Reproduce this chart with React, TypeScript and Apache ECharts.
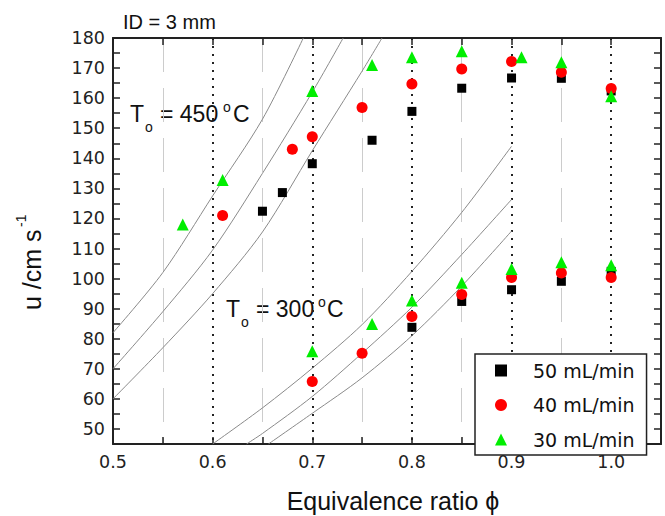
import React, { useEffect, useRef } from 'react';
import * as echarts from 'echarts';

// ---- Data ----
const seriesNames = ['50 mL/min', '40 mL/min', '30 mL/min'];

const phi50 = [0.65, 0.67, 0.70, 0.76, 0.80, 0.85, 0.90, 0.95, 1.00, 0.80, 0.85, 0.90, 0.95, 1.00];
const u50 = [122.4, 128.6, 138.2, 146.0, 155.6, 163.3, 166.7, 166.6, 162.4, 83.8, 92.4, 96.3, 99.1, 102.4];

const phi40 = [0.61, 0.68, 0.70, 0.75, 0.80, 0.85, 0.90, 0.95, 1.00, 0.70, 0.75, 0.80, 0.85, 0.90, 0.95, 1.00];
const u40 = [121.0, 143.0, 147.2, 156.9, 164.7, 169.7, 172.2, 168.6, 163.2, 65.8, 75.2, 87.4, 94.7, 100.4, 101.9, 100.4];

const phi30 = [0.57, 0.61, 0.70, 0.76, 0.80, 0.85, 0.91, 0.95, 1.00, 0.70, 0.76, 0.80, 0.85, 0.90, 0.95, 1.00];
const u30 = [118.0, 132.8, 162.4, 171.0, 173.6, 175.6, 173.6, 171.9, 160.6, 75.8, 84.9, 92.7, 98.6, 103.2, 105.4, 104.4];

// model curves (T0 = 450 °C group)
const curveA_phi = [0.5, 0.55, 0.6, 0.65, 0.691];
const curveA_u = [82, 102, 127.5, 153, 180];
const curveB_phi = [0.5, 0.55, 0.6, 0.65, 0.7, 0.731];
const curveB_u = [70, 89, 109.5, 135, 162, 180];
const curveC_phi = [0.5, 0.55, 0.6, 0.65, 0.7, 0.75, 0.77];
const curveC_u = [60, 77, 95, 115.5, 142.5, 169, 180];
// model curves (T0 = 300 °C group)
const curveD_phi = [0.6, 0.65, 0.7, 0.75, 0.8, 0.85, 0.9];
const curveD_u = [45, 57, 70.2, 84.7, 102.4, 122, 144];
const curveE_phi = [0.634, 0.65, 0.7, 0.75, 0.8, 0.85, 0.9];
const curveE_u = [45, 48.5, 60.8, 75.2, 90.5, 108, 126.3];
const curveF_phi = [0.656, 0.7, 0.75, 0.8, 0.85, 0.9];
const curveF_u = [45, 55.2, 67, 81, 97.5, 115.8];

const xMin = 0.5, xMax = 1.05, xStep = 0.1;
const yMin = 45, yMax = 180, yStep = 5;

const zip = (xs: number[], ys: number[]) => xs.map((x, i) => [x, ys[i]]);

const AXIS_COLOR = '#222';
const SANS = 'Liberation Sans, Arial, sans-serif';
const TICKFONT = 'DejaVu Sans, sans-serif';

export default function App() {
  const ref = useRef<HTMLDivElement>(null);
  useEffect(() => {
    if (!ref.current) return;
    const chart = echarts.init(ref.current, undefined, { renderer: 'svg' });

    const curve = (p: number[], u: number[]) => ({
      type: 'line',
      data: zip(p, u),
      smooth: 0.3,
      showSymbol: false,
      symbol: 'none',
      silent: true,
      lineStyle: { color: '#8a8a8a', width: 1 },
      z: 1,
    });

    const scatter = (name: string, p: number[], u: number[], symbol: string, size: number, color: string) => ({
      name,
      type: 'scatter',
      data: zip(p, u),
      symbol,
      symbolSize: size,
      itemStyle: { color, opacity: 1 },
      z: 3,
    });

    const tickCommon = { show: true, inside: true, length: 7, lineStyle: { color: AXIS_COLOR, width: 1.5 } };
    const lineCommon = { show: true, lineStyle: { color: AXIS_COLOR, width: 2 } };

    const option: any = {
      animation: false,
      grid: { left: 113, right: 4, top: 38, bottom: 72, containLabel: false },
      xAxis: [
        {
          type: 'value', position: 'bottom', min: xMin, max: xMax, interval: xStep,
          axisLine: lineCommon,
          axisTick: tickCommon,
          minorTick: { show: true, splitNumber: 2, length: 7, lineStyle: { color: AXIS_COLOR, width: 1.5 } },
          axisLabel: {
            show: true, margin: 9, fontSize: 17.5, fontFamily: TICKFONT, color: '#222',
            showMaxLabel: false,
            formatter: (v: number) => (Math.abs(v - 1.05) < 1e-6 ? '' : v.toFixed(1)),
          },
          splitLine: { show: true, lineStyle: { color: '#222', width: 2, type: [2, 6] } },
          minorSplitLine: { show: true, lineStyle: { color: '#cccccc', width: 1, type: [34, 16] } },
        },
        {
          type: 'value', position: 'top', min: xMin, max: xMax, interval: xStep,
          axisLine: lineCommon,
          axisTick: tickCommon,
          minorTick: { show: true, splitNumber: 2, length: 7, lineStyle: { color: AXIS_COLOR, width: 1.5 } },
          axisLabel: { show: false },
          splitLine: { show: false },
        },
      ],
      yAxis: [
        {
          type: 'value', position: 'left', min: yMin, max: yMax, interval: yStep,
          axisLine: lineCommon,
          axisTick: tickCommon,
          axisLabel: {
            show: true, margin: 8, fontSize: 17.5, fontFamily: TICKFONT, color: '#222',
            formatter: (v: number) => (Math.round(v) % 10 === 0 ? String(Math.round(v)) : ''),
          },
          splitLine: { show: false },
        },
        {
          type: 'value', position: 'right', min: yMin, max: yMax, interval: yStep,
          axisLine: lineCommon,
          axisTick: tickCommon,
          axisLabel: { show: false },
          splitLine: { show: false },
        },
      ],
      legend: {
        data: seriesNames,
        orient: 'vertical',
        left: 475,
        top: 354,
        padding: [7, 12, 6, 20],
        itemWidth: 12,
        itemHeight: 12,
        itemGap: 15.5,
        borderColor: '#222',
        borderWidth: 1.5,
        backgroundColor: '#fff',
        textStyle: { fontSize: 19, fontFamily: TICKFONT, color: '#111', lineHeight: 12, padding: [0, 0, 0, 21] },
        z: 10,
      },
      series: [
        curve(curveA_phi, curveA_u),
        curve(curveB_phi, curveB_u),
        curve(curveC_phi, curveC_u),
        curve(curveD_phi, curveD_u),
        curve(curveE_phi, curveE_u),
        curve(curveF_phi, curveF_u),
        scatter(seriesNames[0], phi50, u50, 'rect', 9, '#000000'),
        scatter(seriesNames[1], phi40, u40, 'circle', 11, '#ff0000'),
        scatter(seriesNames[2], phi30, u30, 'triangle', 12, '#00ee00'),
      ],
      graphic: [
        { type: 'text', x: 123, y: 21.5, style: { text: 'ID = 3 mm', fontSize: 20, fontFamily: SANS, fill: '#111', align: 'left', verticalAlign: 'middle' } },
        // T_o = 450 °C
        { type: 'text', x: 130, y: 114, style: { text: 'T', fontSize: 23, fontFamily: SANS, fill: '#111', align: 'left', verticalAlign: 'middle' } },
        { type: 'text', x: 145, y: 127, style: { text: 'o', fontSize: 14, fontFamily: SANS, fill: '#111', align: 'left', verticalAlign: 'middle' } },
        { type: 'text', x: 160, y: 114, style: { text: '= 450', fontSize: 23, fontFamily: SANS, fill: '#111', align: 'left', verticalAlign: 'middle' } },
        { type: 'text', x: 223, y: 107, style: { text: 'o', fontSize: 14, fontFamily: SANS, fill: '#111', align: 'left', verticalAlign: 'middle' } },
        { type: 'text', x: 233, y: 114, style: { text: 'C', fontSize: 23, fontFamily: SANS, fill: '#111', align: 'left', verticalAlign: 'middle' } },
        // T_o = 300 °C
        { type: 'text', x: 226, y: 308.5, style: { text: 'T', fontSize: 23, fontFamily: SANS, fill: '#111', align: 'left', verticalAlign: 'middle' } },
        { type: 'text', x: 241, y: 321.5, style: { text: 'o', fontSize: 14, fontFamily: SANS, fill: '#111', align: 'left', verticalAlign: 'middle' } },
        { type: 'text', x: 256, y: 308.5, style: { text: '= 300', fontSize: 23, fontFamily: SANS, fill: '#111', align: 'left', verticalAlign: 'middle' } },
        { type: 'text', x: 318, y: 301.5, style: { text: 'o', fontSize: 14, fontFamily: SANS, fill: '#111', align: 'left', verticalAlign: 'middle' } },
        { type: 'text', x: 327, y: 308.5, style: { text: 'C', fontSize: 23, fontFamily: SANS, fill: '#111', align: 'left', verticalAlign: 'middle' } },
        // axis titles
        { type: 'text', x: 393, y: 501, style: { text: 'Equivalence ratio \u03d5', fontSize: 25, fontFamily: SANS, fill: '#111', align: 'center', verticalAlign: 'middle' } },
        { type: 'text', x: 32, y: 310, rotation: Math.PI / 2, style: { text: 'u /cm s', fontSize: 25, fontFamily: SANS, fill: '#111', align: 'left', verticalAlign: 'middle' } },
        { type: 'text', x: 21, y: 227, rotation: Math.PI / 2, style: { text: '-1', fontSize: 14, fontFamily: SANS, fill: '#111', align: 'left', verticalAlign: 'middle' } },
      ],
    };

    chart.setOption(option);
    return () => chart.dispose();
  }, []);

  return <div ref={ref} style={{ position: 'absolute', left: 0, top: 0, width: 665, height: 516 }} />;
}
